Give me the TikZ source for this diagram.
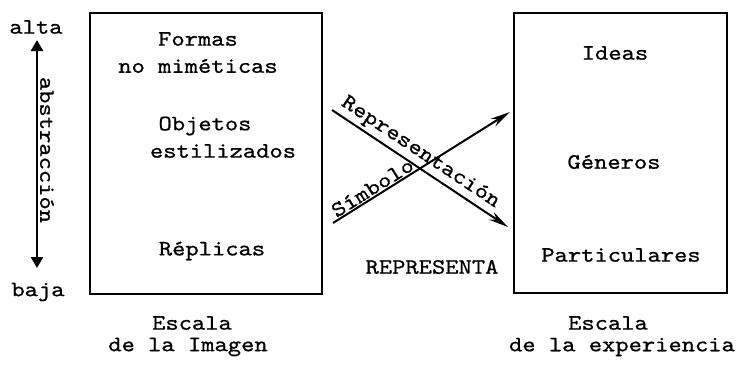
\documentclass[tikz,border=0pt]{standalone}
\usepackage{fontspec}
\setmonofont[FakeStretch=1.15, FakeBold=0.8]{lmmono10-regular.otf}
\usetikzlibrary{arrows.meta}
\begin{document}
\begin{tikzpicture}[x=1pt,y=-1pt,
  txt/.style={font=\ttfamily\fontsize{22}{24}\selectfont, inner sep=0pt},
  box/.style={draw, line width=2.4pt, inner sep=0pt},
  arr/.style={line width=2pt, -{Stealth[length=20pt,width=9pt]}},
  dblarr/.style={line width=2.6pt, {Triangle[length=11pt,width=12pt]}-{Triangle[length=11pt,width=12pt]}}
]
\useasboundingbox (0,0) rectangle (751,372);
% boxes
\node[box, minimum width=232pt, minimum height=281pt] (L) at (206,153.5) {};
\node[box, minimum width=213pt, minimum height=280pt] (R) at (620.5,153) {};
% scale of abstraction
\node[txt] (alta) at (36,27) {alta};
\node[txt] (baja) at (38,292) {baja};
\coordinate (atop) at (37,40);
\coordinate (abot) at (37,268);
\draw[dblarr] (atop) -- (abot);
\node[txt, rotate=-90] (abs) at (47,150) {abstracción};
% left column
\node[txt] (formas) at (198,39) {Formas};
\node[txt] (nomim) at (198,66) {no miméticas};
\node[txt] (obj) at (205,126) {Objetos};
\node[txt] (esti) at (223,151) {estilizados};
\node[txt] (repl) at (212,251) {Réplicas};
% right column
\node[txt] (ideas) at (615,53) {Ideas};
\node[txt] (gen) at (614,162) {Géneros};
\node[txt] (part) at (621,255) {Particulares};
% crossing arrows
\coordinate (r1) at (332,110);
\coordinate (r2) at (508,227);
\coordinate (s1) at (333,223);
\coordinate (s2) at (510,112);
\draw[arr] (r1) -- (r2) node[txt, pos=0.46, sloped, above=3pt] (rep) {Representación};
\draw[arr] (s1) -- (s2) node[txt, pos=0.25, sloped, above=1pt] (sim) {Símbolo};
\node[txt] (represa) at (432,267) {REPRESENTA};
% captions
\node[txt] (esc1) at (192,323) {Escala};
\node[txt] (img) at (188,347) {de la Imagen};
\node[txt] (esc2) at (608,323) {Escala};
\node[txt] (exp) at (622,347) {de la experiencia};
\end{tikzpicture}
\end{document}
